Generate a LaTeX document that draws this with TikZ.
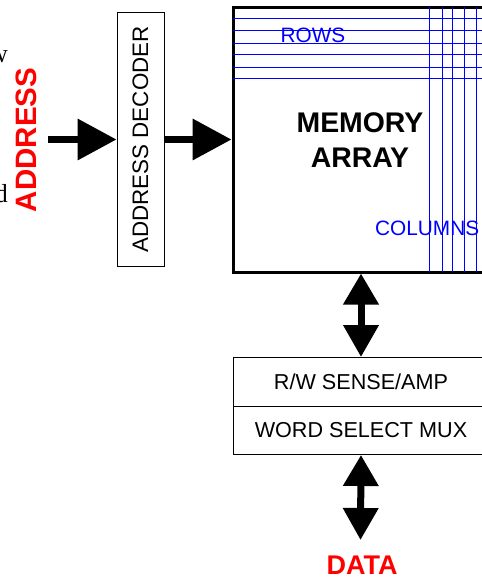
\documentclass[tikz,border=0pt]{standalone}
\usepackage{fontspec}
\setmainfont{Liberation Sans}
\newfontfamily\serifbits{Liberation Serif}
\usetikzlibrary{arrows.meta}

\tikzset{
	blockbox/.style={draw, line width=1pt, inner sep=0pt, font=\fontsize{21.6}{26}\selectfont},
	bigarrow/.style={line width=7pt, -{Triangle[length=39pt,width=40pt]}},
	dblarrow/.style={line width=7pt, {Triangle[length=31pt,width=34pt]}-{Triangle[length=32pt,width=34pt]}},
	wireline/.style={blue, line width=0.9pt},
}

\begin{document}
\begin{tikzpicture}[x=1pt,y=-1pt]
			%%%%% START %%%%%
			\def\arrx{233}
			\def\arrtop{7}
			\def\arrbot{272}
			\def\midy{139.5}
			\def\busx{360.5}
			
			\useasboundingbox (0,0) rectangle (482,579);
			\clip (0,0) rectangle (482,579);
			
			% bits of text cut off at the left edge
			\node[anchor=base east, inner sep=0pt, font=\serifbits\fontsize{26}{30}\selectfont] (cutw) at (8,62) {w};
			\node[anchor=base east, inner sep=0pt, font=\serifbits\fontsize{26}{30}\selectfont] (cutd) at (8,202) {d};
			
			\node[rotate=90, red, font=\bfseries\fontsize{29.5}{34}\selectfont] (address) at (26,140) {ADDRESS};
			\coordinate (addrin) at (48,\midy);
			
			\node[blockbox, rotate=90, minimum width=254pt, minimum height=47pt, font=\fontsize{22.4}{26}\selectfont] (decoder) at (140.5,\midy) {ADDRESS DECODER};
			
			\node[draw, line width=3pt, minimum width=260pt, minimum height=265pt, inner sep=0pt] (array) at (363,\midy) {};
			
			% rows and columns
			\foreach \ry in {18,30,43,54,67,78}
				\draw[wireline] (\arrx,\ry) -- (495,\ry);
			\foreach \cx in {429,442,452,464,476}
				\draw[wireline] (\cx,\arrtop) -- (\cx,\arrbot);
			
			\node[blue, font=\fontsize{20.8}{24}\selectfont] (rows) at (313,35) {ROWS};
			\node[blue, anchor=west, inner sep=0pt, font=\fontsize{20.8}{24}\selectfont] (columns) at (375,228) {COLUMNS};
			\node[align=center, font=\bfseries\fontsize{28.4}{35}\selectfont] (memory) at (360,140) {MEMORY\\ARRAY};
			
			\node[blockbox, anchor=north west, minimum width=255pt, minimum height=49pt] (sense) at (\arrx,357) {R/W SENSE/AMP};
			\node[blockbox, anchor=north west, minimum width=255pt, minimum height=48pt] (mux) at (\arrx,406) {WORD SELECT MUX};
			
			\coordinate (dataout) at (\busx,540);
			\node[red, font=\bfseries\fontsize{27}{32}\selectfont] (data) at (362,565) {DATA};
			
			\draw[bigarrow] (addrin) -- (decoder.north);
			\draw[bigarrow] (decoder.south) -- (array.west);
			\draw[dblarrow] (sense.north |- array.south) -- (sense.north);
			\draw[dblarrow] (mux.south) -- (dataout);
			%%%%% END %%%%%
\end{tikzpicture}
\end{document}
